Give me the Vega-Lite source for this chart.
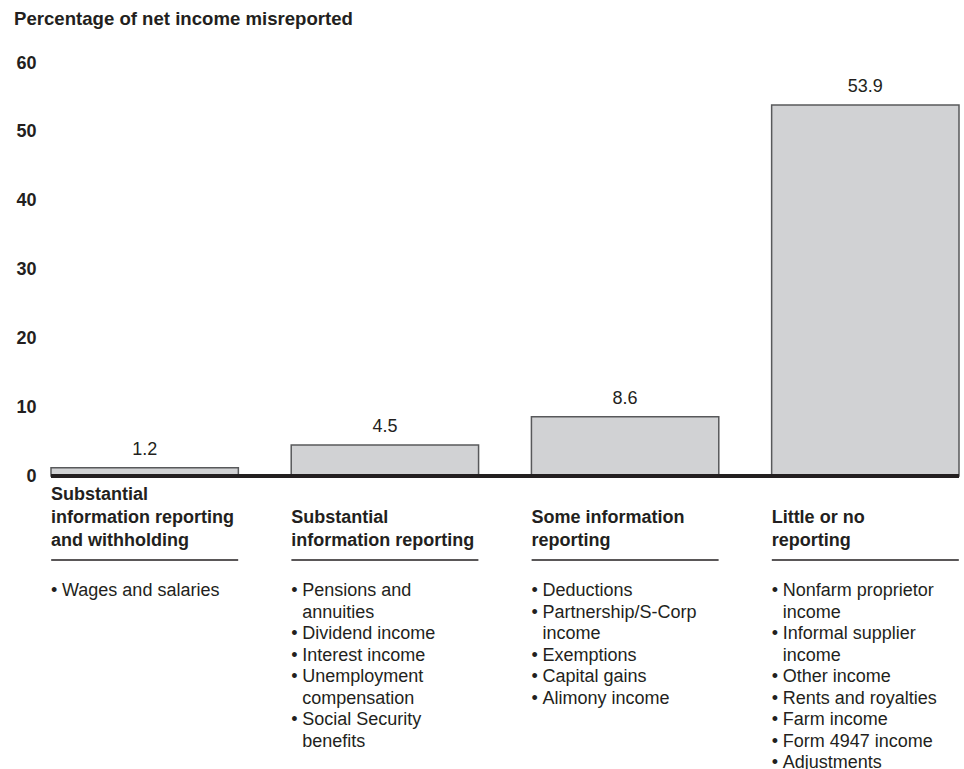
{
  "$schema": "https://vega.github.io/schema/vega-lite/v6.json",
  "padding": {"left": 13, "top": 10, "right": 2, "bottom": 0},
  "config": {"font": "Liberation Sans", "view": {"stroke": null}},
  "title": {"text": "Percentage of net income misreported", "anchor": "start", "fontSize": 18.6, "fontWeight": "bold", "font": "Liberation Sans", "color": "#231f20", "offset": 25, "dx": -2},
  "datasets": {
    "bars": [
      {"cat": "Substantial information reporting and withholding", "val": 1.2},
      {"cat": "Substantial information reporting", "val": 4.5},
      {"cat": "Some information reporting", "val": 8.6},
      {"cat": "Little or no reporting", "val": 53.9}
    ],
    "headers": [
      {"cat": "Substantial information reporting and withholding", "line": 1, "text": "Substantial"},
      {"cat": "Substantial information reporting and withholding", "line": 2, "text": "information reporting"},
      {"cat": "Substantial information reporting and withholding", "line": 3, "text": "and withholding"},
      {"cat": "Substantial information reporting", "line": 2, "text": "Substantial"},
      {"cat": "Substantial information reporting", "line": 3, "text": "information reporting"},
      {"cat": "Some information reporting", "line": 2, "text": "Some information"},
      {"cat": "Some information reporting", "line": 3, "text": "reporting"},
      {"cat": "Little or no reporting", "line": 2, "text": "Little or no"},
      {"cat": "Little or no reporting", "line": 3, "text": "reporting"}
    ],
    "items": [
      {"cat": "Substantial information reporting and withholding", "line": 1, "text": "Wages and salaries", "bullet": true},
      {"cat": "Substantial information reporting", "line": 1, "text": "Pensions and", "bullet": true},
      {"cat": "Substantial information reporting", "line": 2, "text": "annuities", "bullet": false},
      {"cat": "Substantial information reporting", "line": 3, "text": "Dividend income", "bullet": true},
      {"cat": "Substantial information reporting", "line": 4, "text": "Interest income", "bullet": true},
      {"cat": "Substantial information reporting", "line": 5, "text": "Unemployment", "bullet": true},
      {"cat": "Substantial information reporting", "line": 6, "text": "compensation", "bullet": false},
      {"cat": "Substantial information reporting", "line": 7, "text": "Social Security", "bullet": true},
      {"cat": "Substantial information reporting", "line": 8, "text": "benefits", "bullet": false},
      {"cat": "Some information reporting", "line": 1, "text": "Deductions", "bullet": true},
      {"cat": "Some information reporting", "line": 2, "text": "Partnership/S-Corp", "bullet": true},
      {"cat": "Some information reporting", "line": 3, "text": "income", "bullet": false},
      {"cat": "Some information reporting", "line": 4, "text": "Exemptions", "bullet": true},
      {"cat": "Some information reporting", "line": 5, "text": "Capital gains", "bullet": true},
      {"cat": "Some information reporting", "line": 6, "text": "Alimony income", "bullet": true},
      {"cat": "Little or no reporting", "line": 1, "text": "Nonfarm proprietor", "bullet": true},
      {"cat": "Little or no reporting", "line": 2, "text": "income", "bullet": false},
      {"cat": "Little or no reporting", "line": 3, "text": "Informal supplier", "bullet": true},
      {"cat": "Little or no reporting", "line": 4, "text": "income", "bullet": false},
      {"cat": "Little or no reporting", "line": 5, "text": "Other income", "bullet": true},
      {"cat": "Little or no reporting", "line": 6, "text": "Rents and royalties", "bullet": true},
      {"cat": "Little or no reporting", "line": 7, "text": "Farm income", "bullet": true},
      {"cat": "Little or no reporting", "line": 8, "text": "Form 4947 income", "bullet": true},
      {"cat": "Little or no reporting", "line": 9, "text": "Adjustments", "bullet": true}
    ]
  },
  "spacing": 0,
  "bounds": "flush",
  "vconcat": [
    {
      "width": 908,
      "height": 413,
      "data": {"name": "bars"},
      "layer": [
        {
          "mark": {"type": "bar", "fill": "#d1d2d4", "stroke": "#58595b", "strokeWidth": 1.5},
          "encoding": {
            "x": {"field": "cat", "type": "nominal", "sort": null, "scale": {"type": "band", "domain": ["Substantial information reporting and withholding", "Substantial information reporting", "Some information reporting", "Little or no reporting"], "paddingInner": 0.22, "paddingOuter": 0}, "axis": null},
            "y": {"field": "val", "type": "quantitative", "scale": {"domain": [0, 60], "nice": false}, "axis": {"values": [0, 10, 20, 30, 40, 50, 60], "domain": false, "ticks": false, "grid": false, "labelFontSize": 18, "labelFontWeight": "bold", "labelColor": "#231f20", "labelPadding": 15, "labelFont": "Liberation Sans", "title": null}}
          }
        },
        {
          "mark": {"type": "text", "dy": -18, "fontSize": 18, "color": "#231f20", "baseline": "middle"},
          "encoding": {
            "x": {"field": "cat", "type": "nominal", "sort": null},
            "y": {"field": "val", "type": "quantitative"},
            "text": {"field": "val", "type": "quantitative", "format": ".1f"}
          }
        },
        {
          "mark": {"type": "rule", "color": "#231f20", "strokeWidth": 3.5},
          "encoding": {"y": {"datum": 0, "type": "quantitative"}}
        }
      ]
    },
    {
      "width": 908,
      "height": 293,
      "resolve": {"scale": {"y": "independent"}},
      "layer": [
        {
          "data": {"name": "headers"},
          "mark": {"type": "text", "align": "left", "baseline": "middle", "fontSize": 18, "fontWeight": "bold", "color": "#231f20"},
          "encoding": {
            "x": {"field": "cat", "type": "nominal", "sort": null, "bandPosition": 0, "scale": {"type": "band", "domain": ["Substantial information reporting and withholding", "Substantial information reporting", "Some information reporting", "Little or no reporting"], "paddingInner": 0.22, "paddingOuter": 0}, "axis": null},
            "y": {"field": "line", "type": "quantitative", "scale": {"domain": [0.174, 12.913], "reverse": true, "nice": false, "zero": false}, "axis": null},
            "text": {"field": "text"}
          }
        },
        {
          "data": {"name": "bars"},
          "mark": {"type": "tick", "orient": "horizontal", "size": 187, "thickness": 1.5, "color": "#231f20", "opacity": 1},
          "encoding": {
            "x": {"field": "cat", "type": "nominal", "sort": null},
            "y": {"datum": 3.83, "type": "quantitative", "scale": {"domain": [0.174, 12.913], "reverse": true, "nice": false, "zero": false}, "axis": null}
          }
        },
        {
          "data": {"name": "items"},
          "mark": {"type": "text", "align": "left", "baseline": "middle", "dx": 11, "fontSize": 18, "color": "#231f20"},
          "encoding": {
            "x": {"field": "cat", "type": "nominal", "sort": null, "bandPosition": 0},
            "y": {"field": "line", "type": "quantitative", "scale": {"domain": [-4.349, 9.279], "reverse": true, "nice": false, "zero": false}, "axis": null},
            "text": {"field": "text"}
          }
        },
        {
          "data": {"name": "items"},
          "transform": [{"filter": "datum.bullet"}],
          "mark": {"type": "text", "align": "left", "baseline": "middle", "fontSize": 18, "color": "#231f20"},
          "encoding": {
            "x": {"field": "cat", "type": "nominal", "sort": null, "bandPosition": 0},
            "y": {"field": "line", "type": "quantitative", "scale": {"domain": [-4.349, 9.279], "reverse": true, "nice": false, "zero": false}, "axis": null},
            "text": {"value": "•"}
          }
        }
      ]
    }
  ]
}
